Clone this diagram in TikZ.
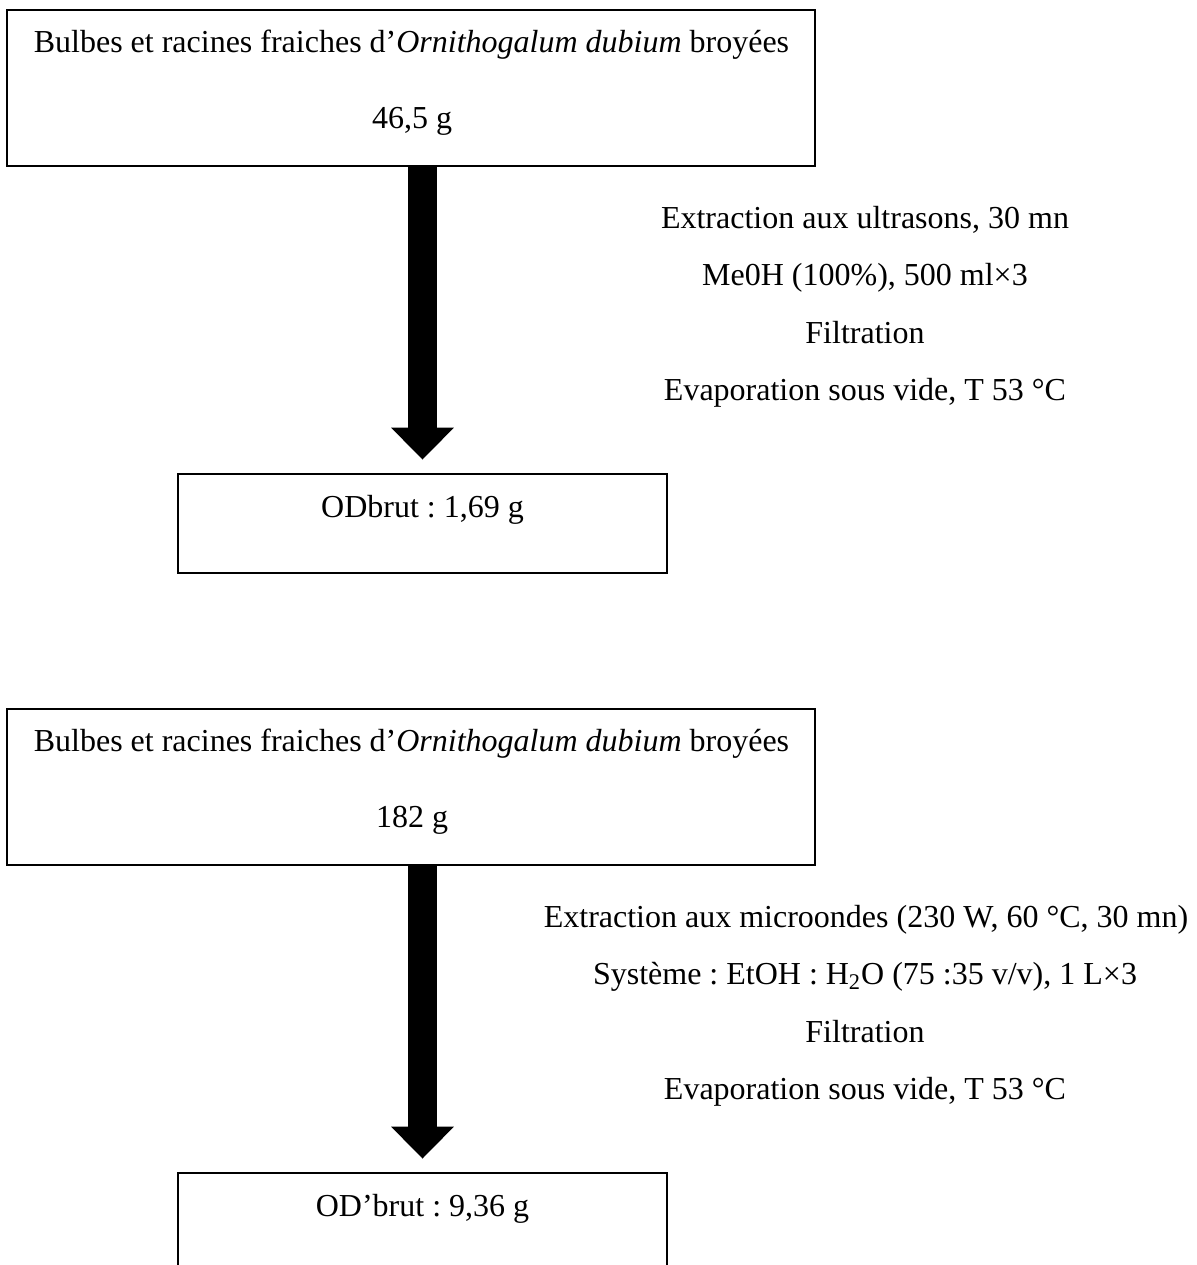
\documentclass[tikz,border=0pt]{standalone}
\usepackage{fontspec}
\setmainfont{Liberation Serif}
\frenchspacing
\usetikzlibrary{arrows.meta,positioning}
\tikzset{
  stockbox/.style={draw=black, line width=1.4pt, inner sep=0pt},
  bigbox/.style={stockbox, minimum width=404pt, minimum height=78pt},
  smallbox/.style={stockbox, minimum width=244.5pt, minimum height=49.5pt},
  flowarrow/.style={-{Triangle[length=16pt,width=30.5pt]}, line width=14.5pt,
    shorten >=6.5pt},
  boxtext/.style={anchor=base, inner sep=0pt, font=\fontsize{16}{19}\selectfont},
}

\begin{document}
\begin{tikzpicture}[x=0.5pt, y=-0.5pt]
    \useasboundingbox (0,0) rectangle (1197,1265);
    \clip (0,0) rectangle (1197,1265);
    % --- Ultrasons (upper scheme) ---
    \begin{scope}
      \node[bigbox] (bulbesA) at (411,88) {};
      \node[smallbox] (brutA) at (422.5,523.5) {};
      \node[boxtext] (nameA) at (411.5,52) {Bulbes et racines fraiches d’\textit{Ornithogalum dubium} broyées};
      \node[boxtext] (massA) at (412,128) {46,5 g};
      \node[boxtext] (yieldA) at (422.5,517) {ODbrut : 1,69 g};
      % conditions
      \node[boxtext] (condA1) at (865,228) {Extraction aux ultrasons, 30 mn};
      \node[boxtext] (condA2) at (865,285.5) {Me0H (100\%), 500 ml×3};
      \node[boxtext] (condA3) at (865,343) {Filtration};
      \node[boxtext] (condA4) at (865,400.5) {Evaporation sous vide, T 53 °C};
      \draw[flowarrow] (brutA.north |- bulbesA.south) -- (brutA.north);
    \end{scope}
    % --- Microondes (lower scheme) ---
    \begin{scope}[shift={(0,699)}]
      \node[bigbox] (bulbesB) at (411,88) {};
      \node[smallbox] (brutB) at (422.5,523.5) {};
      \node[boxtext] (nameB) at (411.5,52) {Bulbes et racines fraiches d’\textit{Ornithogalum dubium} broyées};
      \node[boxtext] (massB) at (412,128) {182 g};
      \node[boxtext] (yieldB) at (422.5,517) {OD’brut : 9,36 g};
      % conditions
      \node[boxtext] (condB1) at (866,228) {Extraction aux microondes (230 W, 60 °C, 30 mn)};
      \node[boxtext] (condB2) at (865,285.5) {Système : EtOH : H\textsubscript{2}O (75 :35 v/v), 1 L×3};
      \node[boxtext] (condB3) at (865,343) {Filtration};
      \node[boxtext] (condB4) at (865,400.5) {Evaporation sous vide, T 53 °C};
      \draw[flowarrow] (brutB.north |- bulbesB.south) -- (brutB.north);
    \end{scope}
\end{tikzpicture}
\end{document}
